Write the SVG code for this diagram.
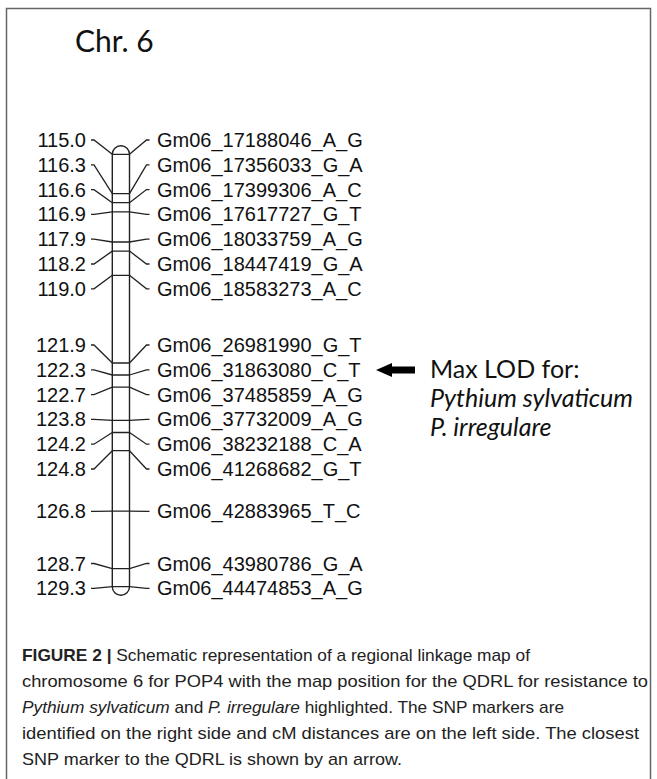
<svg xmlns="http://www.w3.org/2000/svg" width="657" height="779" viewBox="0 0 657 779">
<style>
.frame{fill:none;stroke:#666;stroke-width:1.5}
.title{font-family:Lato,"Open Sans",sans-serif;font-size:30px;fill:#111}
.cm{font-family:"Liberation Sans",Arial,sans-serif;font-size:20px;fill:#111;text-anchor:end}
.snp{font-family:"Liberation Sans",Arial,sans-serif;font-size:20px;fill:#111}
.chr{fill:#fff;stroke:#222;stroke-width:1.4}
.mk{stroke:#222;stroke-width:1.3;fill:none}
.con{stroke:#222;stroke-width:1.3;fill:none}
.note{font-family:Lato,"Open Sans",sans-serif;font-size:25px;fill:#111}
.cap{font-family:"Liberation Sans",Arial,sans-serif;font-size:17px;fill:#222}
</style>
<path class="frame" d="M6.5,779 V8.5 H650.5 V779"/>
<g id="title"><text class="title" x="75" y="52">Chr. 6</text></g>
<g id="chromosome">
<path class="chr" d="M112.3,154.3 A8.6,8.6 0 0 1 129.5,154.3 V586.7 A8.6,8.6 0 0 1 112.3,586.7 Z"/>
<path class="mk" d="M112.3,154.3H129.5 M112.3,193.6H129.5 M112.3,202.7H129.5 M112.3,211.8H129.5 M112.3,242H129.5 M112.3,251.1H129.5 M112.3,275.3H129.5 M112.3,363H129.5 M112.3,375H129.5 M112.3,387.1H129.5 M112.3,420.4H129.5 M112.3,432.5H129.5 M112.3,450.7H129.5 M112.3,511.2H129.5 M112.3,568.6H129.5 M112.3,586.7H129.5"/>
</g>
<g id="connectors">
<path class="con" d="M91,140H94L112.3,154.3 M129.5,154.3L146.5,140H149.5"/>
<path class="con" d="M91,164.8H94L112.3,193.6 M129.5,193.6L146.5,164.8H149.5"/>
<path class="con" d="M91,189.6H94L112.3,202.7 M129.5,202.7L146.5,189.6H149.5"/>
<path class="con" d="M91,214.4H94L112.3,211.8 M129.5,211.8L146.5,214.4H149.5"/>
<path class="con" d="M91,239.2H94L112.3,242 M129.5,242L146.5,239.2H149.5"/>
<path class="con" d="M91,264H94L112.3,251.1 M129.5,251.1L146.5,264H149.5"/>
<path class="con" d="M91,288.8H94L112.3,275.3 M129.5,275.3L146.5,288.8H149.5"/>
<path class="con" d="M91,345H94L112.3,363 M129.5,363L146.5,345H149.5"/>
<path class="con" d="M91,369.8H94L112.3,375 M129.5,375L146.5,369.8H149.5"/>
<path class="con" d="M91,394.6H94L112.3,387.1 M129.5,387.1L146.5,394.6H149.5"/>
<path class="con" d="M91,419.4H94L112.3,420.4 M129.5,420.4L146.5,419.4H149.5"/>
<path class="con" d="M91,444.2H94L112.3,432.5 M129.5,432.5L146.5,444.2H149.5"/>
<path class="con" d="M91,469H94L112.3,450.7 M129.5,450.7L146.5,469H149.5"/>
<path class="con" d="M91,511.4H94L112.3,511.2 M129.5,511.2L146.5,511.4H149.5"/>
<path class="con" d="M91,563.5H94L112.3,568.6 M129.5,568.6L146.5,563.5H149.5"/>
<path class="con" d="M91,588.3H94L112.3,586.7 M129.5,586.7L146.5,588.3H149.5"/>
</g>
<g id="locus-115-0"><text class="cm" x="86" y="147">115.0</text><text class="snp" x="157" y="147">Gm06_17188046_A_G</text></g>
<g id="locus-116-3"><text class="cm" x="86" y="171.8">116.3</text><text class="snp" x="157" y="171.8">Gm06_17356033_G_A</text></g>
<g id="locus-116-6"><text class="cm" x="86" y="196.6">116.6</text><text class="snp" x="157" y="196.6">Gm06_17399306_A_C</text></g>
<g id="locus-116-9"><text class="cm" x="86" y="221.4">116.9</text><text class="snp" x="157" y="221.4">Gm06_17617727_G_T</text></g>
<g id="locus-117-9"><text class="cm" x="86" y="246.2">117.9</text><text class="snp" x="157" y="246.2">Gm06_18033759_A_G</text></g>
<g id="locus-118-2"><text class="cm" x="86" y="271">118.2</text><text class="snp" x="157" y="271">Gm06_18447419_G_A</text></g>
<g id="locus-119-0"><text class="cm" x="86" y="295.8">119.0</text><text class="snp" x="157" y="295.8">Gm06_18583273_A_C</text></g>
<g id="locus-121-9"><text class="cm" x="86" y="352">121.9</text><text class="snp" x="157" y="352">Gm06_26981990_G_T</text></g>
<g id="locus-122-3"><text class="cm" x="86" y="376.8">122.3</text><text class="snp" x="157" y="376.8">Gm06_31863080_C_T</text></g>
<g id="locus-122-7"><text class="cm" x="86" y="401.6">122.7</text><text class="snp" x="157" y="401.6">Gm06_37485859_A_G</text></g>
<g id="locus-123-8"><text class="cm" x="86" y="426.4">123.8</text><text class="snp" x="157" y="426.4">Gm06_37732009_A_G</text></g>
<g id="locus-124-2"><text class="cm" x="86" y="451.2">124.2</text><text class="snp" x="157" y="451.2">Gm06_38232188_C_A</text></g>
<g id="locus-124-8"><text class="cm" x="86" y="476">124.8</text><text class="snp" x="157" y="476">Gm06_41268682_G_T</text></g>
<g id="locus-126-8"><text class="cm" x="86" y="518.4">126.8</text><text class="snp" x="157" y="518.4">Gm06_42883965_T_C</text></g>
<g id="locus-128-7"><text class="cm" x="86" y="570.5">128.7</text><text class="snp" x="157" y="570.5">Gm06_43980786_G_A</text></g>
<g id="locus-129-3"><text class="cm" x="86" y="595.3">129.3</text><text class="snp" x="157" y="595.3">Gm06_44474853_A_G</text></g>
<g id="qdrl-note">
<path d="M376,370 L392,363 V366.5 H415 V373.5 H392 V377 Z" fill="#000"/>
<text class="note" x="430" y="378">Max LOD for:</text>
<text class="note" x="430" y="407" font-style="italic">Pythium sylvaticum</text>
<text class="note" x="430" y="436" font-style="italic">P. irregulare</text>
</g>
<g id="caption">
<text class="cap" x="22" y="661" textLength="508" lengthAdjust="spacingAndGlyphs"><tspan font-weight="bold">FIGURE 2 | </tspan>Schematic representation of a regional linkage map of</text>
<text class="cap" x="22" y="687" textLength="626" lengthAdjust="spacingAndGlyphs">chromosome 6 for POP4 with the map position for the QDRL for resistance to</text>
<text class="cap" x="22" y="713" textLength="542" lengthAdjust="spacingAndGlyphs"><tspan font-style="italic">Pythium sylvaticum</tspan> and <tspan font-style="italic">P. irregulare</tspan> highlighted. The SNP markers are</text>
<text class="cap" x="22" y="739" textLength="617" lengthAdjust="spacingAndGlyphs">identified on the right side and cM distances are on the left side. The closest</text>
<text class="cap" x="22" y="765" textLength="380" lengthAdjust="spacingAndGlyphs">SNP marker to the QDRL is shown by an arrow.</text>
</g>
</svg>
